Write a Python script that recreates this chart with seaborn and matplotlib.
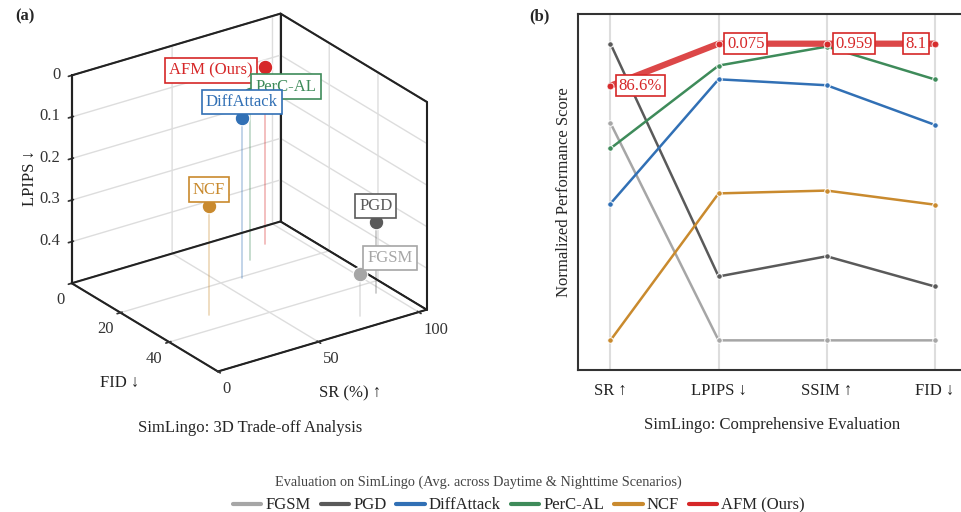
import numpy as np
import pandas as pd
import matplotlib
matplotlib.use("Agg")
import matplotlib.pyplot as plt
import seaborn as sns
from matplotlib.lines import Line2D
from matplotlib.transforms import offset_copy

# values
methods = ["FGSM", "PGD", "DiffAttack", "PerC-AL", "NCF", "AFM (Ours)"]
colors = ["#a6a6a6", "#5a5a5a", "#3170b5", "#3e8b5a", "#c98a2e", "#d62728"]
sr = [78.1, 96.2, 59.7, 72.3, 28.5, 86.6]
lpips = [0.400, 0.330, 0.114, 0.099, 0.239, 0.075]
ssim = [0.652, 0.739, 0.916, 0.956, 0.807, 0.959]
fid = [53.8, 45.5, 20.6, 13.6, 32.9, 8.1]

metrics = ["SR", "LPIPS", "SSIM", "FID"]
metric_labels = ["SR ↑", "LPIPS ↓", "SSIM ↑", "FID ↓"]
higher_better = [True, False, True, False]
afm_labels = ["86.6%", "0.075", "0.959", "8.1"]

lpips_ticks = [0, 0.1, 0.2, 0.3, 0.4]

# label offsets (points) and stacking order for the 3D panel
label_offsets = {
    "FGSM": (22, 12, "center", 20),
    "PGD": (0, 12, "center", 20),
    "DiffAttack": (0, 11, "center", 23),
    "PerC-AL": (4, 5, "left", 22),
    "NCF": (0, 12, "center", 20),
    "AFM (Ours)": (-9, -2.5, "right", 21),
}

FID_MAX, SR_MAX, LP_MAX = 60, 104, 0.5

sns.set_theme(style="white")
plt.rcParams["font.family"] = ["Liberation Serif", "DejaVu Serif"]
plt.rcParams["axes.unicode_minus"] = False

fig = plt.figure(figsize=(9.61, 5.12), dpi=100)

# ---------------- (a) 3D trade-off ----------------
# LPIPS axis points down (0 on top), so plot height = LP_MAX - lpips
ax = fig.add_axes([-0.0065, 0.208, 0.52, 0.81], projection="3d", proj_type="ortho")
ax.view_init(elev=25, azim=-35)
ax.set_box_aspect((1, 1, 0.9))

for name, c, s, l, f in zip(methods, colors, sr, lpips, fid):
    h = LP_MAX - l
    ax.plot([f, f], [s, s], [h, 0], color=c, alpha=0.35, lw=1.2)
    ax.scatter([f], [s], [h], color=c, s=110, edgecolor="white", linewidth=0.8,
               depthshade=False, alpha=1)
    dx, dy, ha, z = label_offsets[name]
    tr = offset_copy(ax.transData, fig=fig, x=dx, y=dy, units="points")
    ax.text(f, s, h, name, transform=tr, ha=ha, va="center", color=c, fontsize=12, zorder=z,
            bbox=dict(boxstyle="square,pad=0.25", fc="white", ec=c, lw=1.2))

# black outline of the back walls
edges = [
    ([0, 0], [0, SR_MAX], [0, 0]),
    ([0, 0], [SR_MAX, SR_MAX], [0, LP_MAX]),
    ([0, 0], [0, SR_MAX], [LP_MAX, LP_MAX]),
    ([0, 0], [0, 0], [0, LP_MAX]),
    ([0, FID_MAX], [SR_MAX, SR_MAX], [0, 0]),
    ([FID_MAX, FID_MAX], [SR_MAX, SR_MAX], [0, LP_MAX]),
    ([0, FID_MAX], [SR_MAX, SR_MAX], [LP_MAX, LP_MAX]),
]
for xs, ys, zs in edges:
    ax.plot(xs, ys, zs, color="#222222", lw=1.5)

ax.set_xlim(0, FID_MAX)
ax.set_ylim(0, SR_MAX)
ax.set_zlim(0, LP_MAX)
ax.set_xticks([0, 20, 40])
ax.set_yticks([0, 50, 100])
ax.set_zticks([LP_MAX - t for t in lpips_ticks])
ax.set_zticklabels([f"{t:g}" for t in lpips_ticks])
ax.set_xlabel("")
ax.set_ylabel("")
ax.set_zlabel("")
ax.tick_params(labelsize=12, colors="#333333", pad=-3)

for axis in (ax.xaxis, ax.yaxis, ax.zaxis):
    axis.set_pane_color((1, 1, 1, 1))
    axis.pane.set_edgecolor("#222222")
    axis.line.set_color("#222222")
    axis.line.set_linewidth(1.5)
    axis._axinfo["grid"]["color"] = "#dddddd"
    axis._axinfo["grid"]["linewidth"] = 1.0

# keep the LPIPS axis on the left vertical edge
ax.zaxis.set_ticks_position("lower")

# push tick labels sideways, away from the box
for lab in ax.xaxis.get_ticklabels():
    lab.set_ha("right")
for lab in ax.yaxis.get_ticklabels():
    lab.set_ha("left")
for lab in ax.zaxis.get_ticklabels():
    lab.set_ha("right")
    lab.set_va("center")

fig.text(0.031, 0.652, "LPIPS ↓", fontsize=12, rotation=90, ha="center", va="center", color="#222222")
fig.text(0.125, 0.252, "FID ↓", fontsize=12, ha="center", va="center", color="#222222")
fig.text(0.364, 0.232, "SR (%) ↑", fontsize=12, ha="center", va="center", color="#222222")

# ---------------- (b) parallel coordinates ----------------
ax2 = fig.add_axes([0.6015, 0.2773, 0.405, 0.6953])

table = pd.DataFrame({"method": methods, "SR": sr, "LPIPS": lpips, "SSIM": ssim, "FID": fid})
rows = []
for j, (m, hb) in enumerate(zip(metrics, higher_better)):
    col = table[m]
    span = col.max() - col.min()
    norm = (col - col.min()) / span if hb else (col.max() - col) / span
    for name, v in zip(table["method"], norm):
        rows.append({"method": name, "pos": j, "score": v})
long = pd.DataFrame(rows)

for j in range(len(metrics)):
    ax2.axvline(j, color="#dddddd", lw=1.5, zorder=0)

for name, c in zip(methods, colors):
    sub = long[long["method"] == name]
    is_ours = name == "AFM (Ours)"
    sns.lineplot(data=sub, x="pos", y="score", ax=ax2, color=c,
                 lw=4.5 if is_ours else 1.8, alpha=0.85 if is_ours else 1,
                 marker="o", markersize=5 if is_ours else 4,
                 markeredgecolor="white", markeredgewidth=0.7,
                 zorder=4 if is_ours else 2, legend=False)

afm_norm = long[long["method"] == "AFM (Ours)"]["score"].to_numpy()
for j, (txt, v) in enumerate(zip(afm_labels, afm_norm)):
    last = j == len(metrics) - 1
    tr = offset_copy(ax2.transData, fig=fig, x=-6 if last else 6, y=0, units="points")
    ax2.text(j, v, txt, transform=tr, ha="right" if last else "left", va="center",
             color="#d62728", fontsize=12, zorder=6,
             bbox=dict(boxstyle="square,pad=0.15", fc="white", ec="#d62728", lw=1.2))

ax2.set_xlim(-0.3, 3.3)
ax2.set_ylim(-0.1, 1.1)
ax2.set_xticks(range(len(metrics)))
ax2.set_xticklabels(metric_labels, fontsize=12)
ax2.set_yticks([])
ax2.set_xlabel("")
ax2.set_ylabel("Normalized Performance Score", fontsize=12, labelpad=4)
ax2.tick_params(axis="x", length=0, pad=9, colors="#222222")
for side in ["left", "bottom", "top", "right"]:
    ax2.spines[side].set_color("#333333")
    ax2.spines[side].set_linewidth(1.5)

# ---------------- captions & legend ----------------
fig.text(0.016, 0.968, "(a)", fontsize=12, fontweight="bold", va="center")
fig.text(0.551, 0.968, "(b)", fontsize=12, fontweight="bold", va="center")
fig.text(0.26, 0.164, "SimLingo: 3D Trade-off Analysis", fontsize=12, ha="center", va="center")
fig.text(0.803, 0.170, "SimLingo: Comprehensive Evaluation", fontsize=12, ha="center", va="center")
fig.text(0.498, 0.058, "Evaluation on SimLingo (Avg. across Daytime & Nighttime Scenarios)",
         fontsize=10.3, ha="center", va="center", color="#444444")

handles = [Line2D([0], [0], color=c, lw=3) for c in colors]
fig.legend(handles, methods, loc="center", bbox_to_anchor=(0.54, 0.013), ncol=6,
           frameon=False, fontsize=12, handlelength=1.7, handletextpad=0.25,
           columnspacing=0.6, borderpad=0)

fig.savefig("out.png", dpi=100)
